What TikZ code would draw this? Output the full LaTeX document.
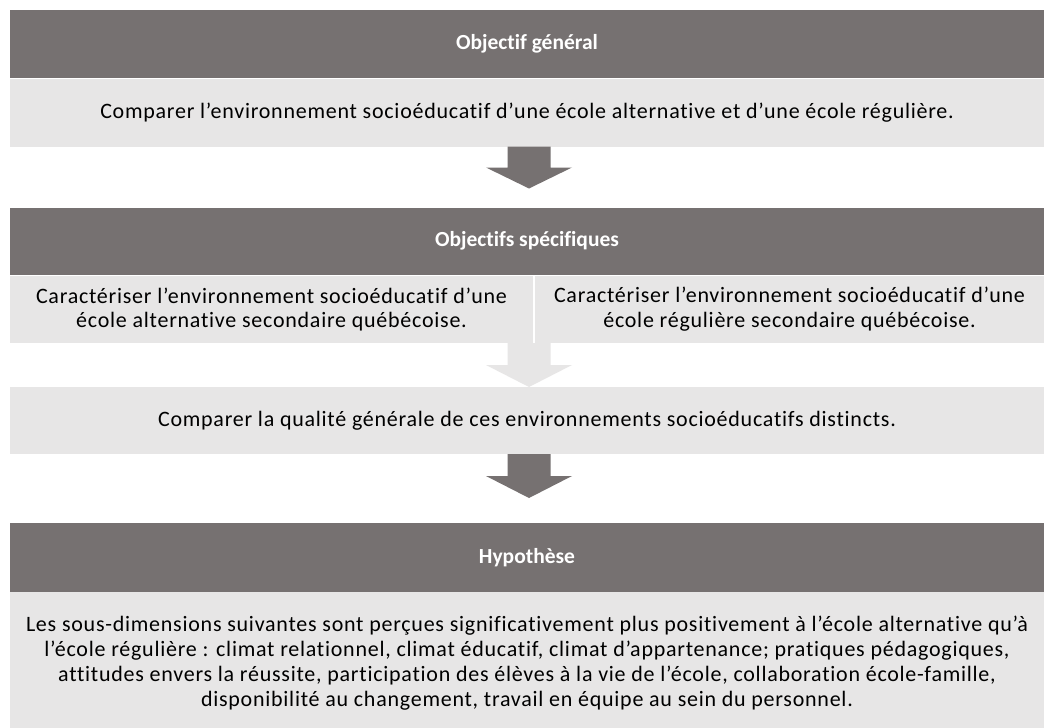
\documentclass[tikz,border=0pt]{standalone}
\usepackage{fontspec}
\setmainfont{Carlito}[LetterSpace=3.4,Ligatures={NoCommon}]
\newfontfamily\headfont{Carlito}[Ligatures={NoCommon}]
\usetikzlibrary{calc}
\definecolor{darkc}{HTML}{767171}
\definecolor{lightc}{HTML}{E7E6E6}
\definecolor{arrowlight}{HTML}{E7E6E6}
\newcommand\blockarrow[3]{%
  \fill[#1] ($(#2)+(-21.5,0)$) -- ($(#2)+(21.5,0)$)
    -- ($(#2)!0.5!(#3)+(21.5,0)$) -- ($(#2)!0.5!(#3)+(43,0)$)
    -- (#3) -- ($(#2)!0.5!(#3)+(-43,0)$) -- ($(#2)!0.5!(#3)+(-21.5,0)$) -- cycle;}
\begin{document}
\begin{tikzpicture}[x=1pt,y=-1pt,
  every node/.style={inner sep=0pt,outer sep=0pt,font=\fontsize{22}{24.8}\selectfont},
  header/.style={rectangle,fill=darkc,text=white,font=\headfont\fontsize{21.5}{24.8}\selectfont\bfseries,minimum width=1034pt},
  lightbox/.style={rectangle,fill=lightc,text=black,align=center}]
\useasboundingbox (0,0) rectangle (1044,728);
\fill[white] (0,0) rectangle (1044,728);
\node[header,minimum height=68pt] (h1) at (527,44) {Objectif général};
\node[lightbox,minimum width=1034pt,minimum height=68pt] (b1) at (527,112.5) {Comparer l’environnement socioéducatif d’une école alternative et d’une école régulière.};
\node[header,minimum height=67pt] (h2) at (527,241) {Objectifs spécifiques};
\node[lightbox,minimum width=523pt,minimum height=67pt] (b2l) at (271.5,309.5) {Caractériser l’environnement socioéducatif d’une\\école alternative secondaire québécoise.};
\node[lightbox,minimum width=509pt,minimum height=67pt] (b2r) at (789.5,309.5) {Caractériser l’environnement socioéducatif d’une\\école régulière secondaire québécoise.};
\node[lightbox,minimum width=1034pt,minimum height=67pt] (b3) at (527,420.5) {Comparer la qualité générale de ces environnements socioéducatifs distincts.};
\node[header,minimum height=69pt] (h3) at (527,557.5) {Hypothèse};
\node[lightbox,minimum width=1034pt,minimum height=142pt] (b4) at (527,663) {Les sous-dimensions suivantes sont perçues significativement plus positivement à l’école alternative qu’à\\l’école régulière : climat relationnel, climat éducatif, climat d’appartenance; pratiques pédagogiques,\\attitudes envers la réussite, participation des élèves à la vie de l’école, collaboration école-famille,\\disponibilité au changement, travail en équipe au sein du personnel.};
\coordinate (a1s) at ($(b1.south)+(2,0)$);
\coordinate (a1t) at ($(a1s)+(0,42)$);
\coordinate (a2s) at (529,343);
\coordinate (a2t) at ($(a2s)+(0,44)$);
\coordinate (a3s) at ($(b3.south)+(2,0)$);
\coordinate (a3t) at ($(a3s)+(0,44)$);
\blockarrow{darkc}{a1s}{a1t}
\blockarrow{arrowlight}{a2s}{a2t}
\blockarrow{darkc}{a3s}{a3t}
\end{tikzpicture}
\end{document}
